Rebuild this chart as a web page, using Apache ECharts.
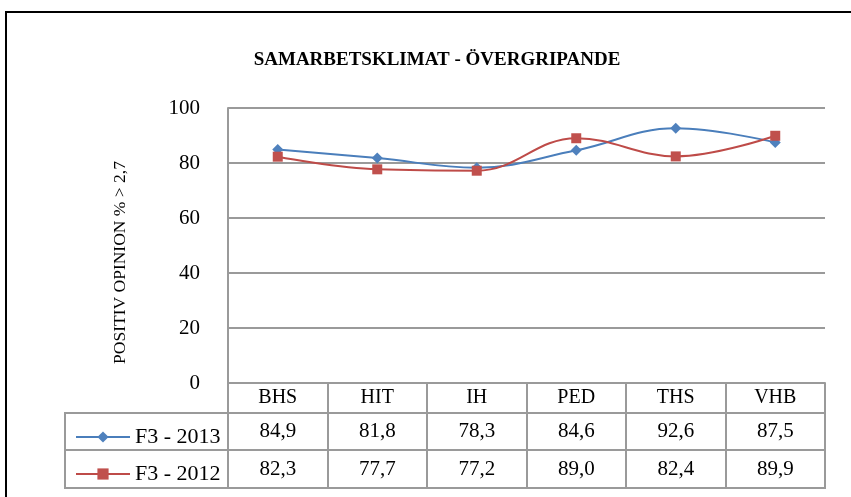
<!DOCTYPE html>
<html><head><meta charset="utf-8">
<script src="https://cdn.jsdelivr.net/npm/echarts@6/dist/echarts.min.js"></script>
<style>html,body{margin:0;padding:0;background:#fff}#c{width:851px;height:497px}</style>
</head><body><div id="c"></div>
<script>
const categories = ['BHS','HIT','IH','PED','THS','VHB'];
const series2013 = [84.9, 81.8, 78.3, 84.6, 92.6, 87.5];
const series2012 = [82.3, 77.7, 77.2, 89.0, 82.4, 89.9];
const seriesNames = ['F3 - 2013', 'F3 - 2012'];
const yTicks = [0, 20, 40, 60, 80, 100];

const FONT = '"Liberation Serif", serif';
const GRID_L = 228, GRID_R = 26;
const fmt = v => v.toFixed(1).replace('.', ',');
const gridColor = '#9a9a9a';

const chart = echarts.init(document.getElementById('c'), null, {renderer: 'canvas'});
const rowAxis = (idx, vals) => ({
  type: 'category', gridIndex: idx, data: vals.map(fmt), boundaryGap: true,
  axisLine: {show: false}, axisTick: {show: false},
  splitLine: {show: true, interval: 0, lineStyle: {color: gridColor, width: 2}},
  axisLabel: {interval: 0, margin: -18.5, verticalAlign: 'middle', color: '#000', fontFamily: FONT, fontSize: 21}
});
chart.setOption({
  animation: false,
  title: {
    text: 'SAMARBETSKLIMAT - ÖVERGRIPANDE', left: 432, top: 46, textAlign: 'center',
    textStyle: {fontFamily: FONT, fontWeight: 'bold', fontSize: 19, color: '#000'}
  },
  legend: {
    orient: 'vertical', left: 70, top: 421, itemGap: 15, itemWidth: 54, itemHeight: 14,
    data: seriesNames,
    textStyle: {fontFamily: FONT, fontSize: 22, color: '#000'}
  },
  grid: [
    {left: GRID_L, right: GRID_R, top: 108, height: 275},
    {left: GRID_L, right: GRID_R, top: 413, height: 37, show: true, borderColor: gridColor, borderWidth: 2},
    {left: GRID_L, right: GRID_R, top: 450, height: 38, show: true, borderColor: gridColor, borderWidth: 2}
  ],
  xAxis: [
    {
      type: 'category', gridIndex: 0, data: categories, boundaryGap: true,
      axisLine: {lineStyle: {color: gridColor, width: 2}},
      axisTick: {show: true, interval: 0, length: 30, lineStyle: {color: gridColor, width: 2}},
      axisLabel: {interval: 0, margin: 5, color: '#000', fontFamily: FONT, fontSize: 20}
    },
    rowAxis(1, series2013),
    rowAxis(2, series2012)
  ],
  yAxis: [
    {
      type: 'value', gridIndex: 0, min: yTicks[0], max: yTicks[yTicks.length - 1], interval: 20,
      name: 'POSITIV OPINION % > 2,7', nameLocation: 'middle', nameRotate: 90, nameGap: 99,
      nameTextStyle: {fontFamily: FONT, fontSize: 17.5, color: '#000', padding: [0, 34, 0, 0]},
      axisLine: {show: true, lineStyle: {color: gridColor, width: 2}},
      axisTick: {show: false},
      splitLine: {lineStyle: {color: gridColor, width: 2}},
      axisLabel: {margin: 28, color: '#000', fontFamily: FONT, fontSize: 21}
    },
    {type: 'value', gridIndex: 1, show: false},
    {type: 'value', gridIndex: 2, show: false}
  ],
  series: [
    {
      name: seriesNames[0], type: 'line', xAxisIndex: 0, yAxisIndex: 0, data: series2013,
      smooth: 0.4, symbol: 'diamond', symbolSize: 11,
      lineStyle: {color: '#4A7EBB', width: 2}, itemStyle: {color: '#4F81BD'}
    },
    {
      name: seriesNames[1], type: 'line', xAxisIndex: 0, yAxisIndex: 0, data: series2012,
      smooth: 0.4, symbol: 'rect', symbolSize: 10,
      lineStyle: {color: '#BE4B48', width: 2}, itemStyle: {color: '#C0504D'}
    }
  ],
  graphic: [
    {type: 'rect', shape: {x: 6, y: 12, width: 900, height: 600}, style: {fill: 'none', stroke: '#000', lineWidth: 2}, silent: true},
    {type: 'rect', shape: {x: 65, y: 413, width: 163, height: 37}, style: {fill: 'none', stroke: gridColor, lineWidth: 2}, silent: true},
    {type: 'rect', shape: {x: 65, y: 450, width: 163, height: 38}, style: {fill: 'none', stroke: gridColor, lineWidth: 2}, silent: true}
  ]
});
</script></body></html>
